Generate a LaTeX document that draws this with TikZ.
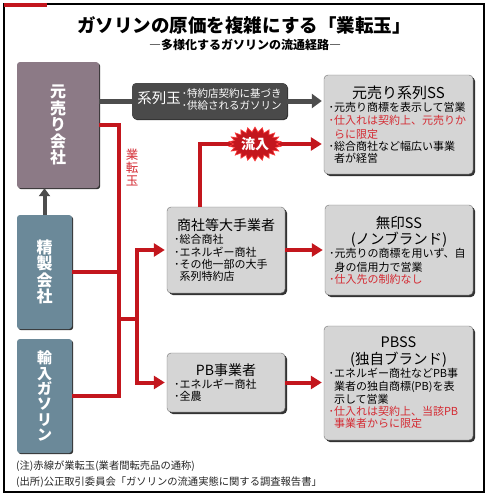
\documentclass[tikz,border=0pt]{standalone}
\usepackage{fontspec}
\setmainfont{Noto Sans CJK JP}
\usetikzlibrary{arrows.meta,shapes.symbols,shadows,calc}
\setlength\parindent{0pt}
\definecolor{redline}{HTML}{C3161D}
\definecolor{redtext}{HTML}{D42A32}
\definecolor{mauve}{HTML}{8C7A86}
\definecolor{steel}{HTML}{6B8999}
\definecolor{boxgray}{HTML}{D5D5D5}
\definecolor{darkbox}{HTML}{4A4A4A}
\definecolor{darkline}{HTML}{4D4D4D}
\newcommand\sbul{\par\noindent\makebox[5.5pt][l]{･}}
\newcommand\cnt{\newline\hspace*{5.5pt}}
\newcommand\fsz[2]{\fontsize{#1}{#2}\selectfont}
\begin{document}
\begin{tikzpicture}[x=1pt,y=-1pt,
  vbox/.style={rounded corners=3pt, text=white, align=center, inner sep=0pt,
    drop shadow={shadow xshift=1.2pt,shadow yshift=-1.2pt,fill=black!80,opacity=1}},
  infobox/.style={rounded corners=4pt, fill=boxgray, draw=black!55, line width=0.4pt,
    inner sep=0pt, align=left,
    drop shadow={shadow xshift=2pt,shadow yshift=-2pt,fill=black!80,opacity=1}},
  redln/.style={draw=redline, line width=4pt},
  redar/.style={redln, -{Triangle[length=11pt,width=13pt]}, shorten >=2pt},
  grayar/.style={draw=darkline, line width=5pt, -{Triangle[length=10pt,width=14pt]}, shorten >=2pt},
]
\useasboundingbox (0,0) rectangle (490,501);
\fill[white] (0,0) rectangle (490,501);
% frame
\draw[line width=1.2pt, black] (4,4) rectangle (484,492);
\fill[redline] (4,2.5) rectangle (47,7);

% titles
\node[font=\fsz{18.5}{20}\bfseries] (title) at (244,25) {ガソリンの原価を複雑にする「業転玉」};
\node[font=\fsz{12}{14}\bfseries] (subtitle) at (245,45) {―多様化するガソリンの流通経路―};

% left boxes
\node[vbox, fill=mauve, minimum width=82pt, minimum height=126pt, font=\fsz{16}{16.5}\bfseries] (moto) at (58,125) {元\\売\\り\\会\\社};
\node[vbox, fill=steel, minimum width=55pt, minimum height=114pt, font=\fsz{16}{16.5}\bfseries] (seisei) at (44.5,272) {精\\製\\会\\社};
\node[vbox, fill=steel, minimum width=55pt, minimum height=114pt, font=\fsz{15}{15.3}\bfseries] (yunyu) at (44.5,396) {輸\\入\\ガ\\ソ\\リ\\ン};

% keiretsu box
\node[rounded corners=4pt, fill=darkbox, text=white, minimum width=155pt, minimum height=36pt, inner sep=2pt,
  drop shadow={shadow xshift=1pt,shadow yshift=-1pt,fill=black!80,opacity=1}] (kei) at (209.5,101)
  {\fsz{14.5}{16}系列玉\hspace{1pt}\fsz{10.5}{11.5}\begin{tabular}{@{}l@{}}･特約店契約に基づき\\･供給されるガソリン\end{tabular}};

% right boxes
\node[infobox, minimum width=149pt, minimum height=99pt, text width=140pt] (ss1) at (398.5,124.5)
 {{\centering\fsz{15}{17}元売り系列SS\par}\fsz{11}{13.2}%
  \sbul 元売り商標を表示して営業%
  \par\color{redtext}\sbul 仕入れは契約上、元売りか\cnt らに限定%
  \par\color{black}\sbul 総合商社など幅広い事業\cnt 者が経営};
\node[infobox, minimum width=148pt, minimum height=90pt, text width=140pt] (ss2) at (399,250)
 {{\centering\fsz{14.5}{16.5}無印SS\\(ノンブランド)\par}\fsz{11}{13.2}%
  \sbul 元売りの商標を用いず、自\cnt 身の信用力で営業%
  \par\color{redtext}\sbul 仕入先の制約なし};
\node[infobox, minimum width=149pt, minimum height=114pt, text width=140pt] (ss3) at (398.5,383)
 {{\centering\fsz{14.5}{16.5}PBSS\\(独自ブランド)\par}\fsz{11}{13.2}%
  \sbul エネルギー商社などPB事\cnt 業者の独自商標(PB)を表\cnt 示して営業%
  \par\color{redtext}\sbul 仕入れは契約上、当該PB\cnt 事業者からに限定};

\node[infobox, minimum width=118pt, minimum height=86pt, text width=104pt] (shosha) at (226,250)
 {{\centering\fsz{14}{17}商社等大手業者\par}\fsz{11}{13}%
  \sbul 総合商社\sbul エネルギー商社\sbul その他一部の大手\cnt 系列特約店};
\node[infobox, minimum width=118pt, minimum height=59pt, text width=104pt] (pb) at (226,382.5)
 {{\centering\fsz{14}{17}PB事業者\par}\fsz{11}{13}%
  \sbul エネルギー商社\sbul 全農};

% gray connectors
\draw[draw=darkline, line width=4pt, -{Triangle[length=8pt,width=11pt]}] (seisei.north) -- (seisei.north |- moto.south);
\draw[draw=darkline, line width=5pt] (moto.east |- kei.west) -- (kei.west);
\draw[grayar] (kei.east) -- (kei.east -| ss1.west);

% red lines
\coordinate (xL) at (119,0);
\coordinate (xR) at (137,0);
\draw[redln] (moto.east) -| (yunyu.east -| xL) -- (yunyu.east);
\draw[redln] (seisei.east) -- (seisei.east -| xL);
\coordinate (jn) at (119,319);
\coordinate (jr) at (137,319);
\draw[redln] (jn) -- (jr);
\draw[redar] (jr) |- (shosha.west);
\draw[redar] (jr) |- (pb.west);
\draw[redar] (shosha.east) -- (shosha.east -| ss2.west);
\draw[redar] (pb.east) -- (pb.east -| ss3.west);
\coordinate (ryuc) at (255,144);
\coordinate (ryustart) at ($(shosha.north west)+(33,0)$);
\draw[redar] (ryustart) |- (ryuc -| ss1.west);
\node[starburst, starburst points=22, starburst point height=5pt, random starburst=0,
  fill=redline, draw=red!75!white, line width=0.6pt, text=white, font=\fsz{14}{14}\bfseries,
  inner sep=1pt, minimum width=46pt, minimum height=34pt] (ryu) at (ryuc) {流入};
\node[text=redtext, font=\fsz{12.5}{13}, align=center, inner sep=0pt] (gyoten) at (132,167) {業\\転\\玉};

% footnotes
\node[anchor=west, font=\fsz{10.3}{12}, text=black!85, inner sep=0pt] (note1) at (16,466) {(注)赤線が業転玉(業者間転売品の通称)};
\node[anchor=west, font=\fsz{10.3}{12}, text=black!85, inner sep=0pt] (note2) at (16,482) {(出所)公正取引委員会「ガソリンの流通実態に関する調査報告書」};
\end{tikzpicture}
\end{document}
